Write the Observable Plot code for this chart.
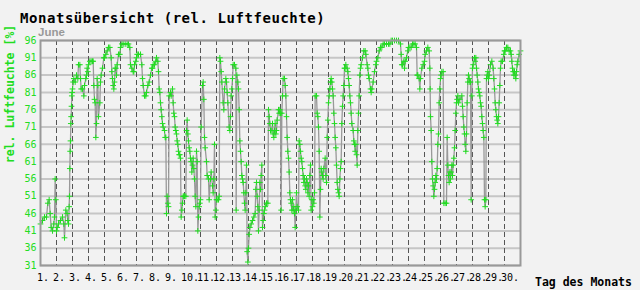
<!DOCTYPE html>
<html>
<head>
<meta charset="utf-8">
<script src="https://cdn.jsdelivr.net/npm/d3@7"></script>
<script src="https://cdn.jsdelivr.net/npm/@observablehq/plot@0.6"></script>
<style>
  html, body { margin: 0; padding: 0; background: #f2f2f2; }
  #chart svg { display: block; }
</style>
</head>
<body>
<div id="chart"></div>
<script>
// Time in hours since 1 June 00:00, relative humidity in %
const hours = [
  0,3,6,9,11,13,14.5,16,18,20,21,22,23,24,
  25,27,30,33,35,36,38,40,41,42,43,43.5,44,44.5,45,45.5,46,46.5,47,47.5,48,
  49,50,52,54,56,57,59,60,61,63,65,66,68,69,70,71,
  72,74,76,78,79,80,81,82,83,84,85,86,87,89,90,91,93,95,
  96,98,100,102,104,106,107,108,109,110,111,112,113,114,115,117,119,
  120,122,124,127,130,132,134,135,137,139,140,141,143,
  144,145,147,150,152,153,154,156,158,159,161,163,165,167,
  168,169,171,173,174,176,177,178,179,180,181,182,183,184,186,187,188,189,190,191,
  192,193,195,196,198,199,200,201,202,203,204,205,206,207,208,209,210,211,212,213,214,215,
  216,218,219,220,221,222,223,224,225,226,227,228,229,230,231,232,233,234,235,236,237,238,239,
  240,241,243,244,245,246,247,249,250,252,253,255,256,258,259,260,261,262,263,
  264,265,267,268,269,270,271,272,274,275,276,278,279,280,281,283,284,285,286,287,
  288,289,291,293,293.5,294.5,296,297,298,299,300,301,302,303,304,305,306,307,308,309,310,311,
  312,313,314,316,318,320,322,323,324,325,326,327,328,329,330,331,332,333,334,335,
  336,337,339,341,342,343,344,345,347,348,349,350,351,352,353,354,355,357,358,359,
  360,361,362,363,364,366,367,368,369,370,371,372,373,374,375,376,377,378,379,380,381,382,383,
  384,385,387,388,389,390,391,392,393,394,395,396,397,398,399,400,401,402,403,404,405,406,407,
  408,409,410,411,412,414,415,416,417,418,419,420,421,422,423,424,425,427,428,429,430,431,
  432,433,434,435,436,437,438,439,440,441,442,443,444,445,446,447,448,449,450,451,452,453,454,455,
  456,457,458,460,461,462,463,464,465,466,467,469,470,471,472,473,474,475,476,477,478,479,
  480,481,483,485,487,488,490,491,492,493,495,496,497,499,501,503,
  504,506,508,510,512,514,516,519,522,524,526,
  528,531,534,537,540,541,542,543,545,546,547,549,551,
  552,554,556,558,560,562,564,565,566,568,569,570,572,574,
  576,577,579,581,583,584,584.5,585,586,587,588,589,590,591,592,593,594,595,596,597,598,599,
  600,601,602,604,605,607,609,610,611,612,613,614,615,616,617,618,619,620,621,622,623,
  624,625,626,627,629,632,633,634,635,636,637,638,639,640,641,642,643,644,645,646,647,
  648,649,651,652,653,654,655,656,657,658,659,660,661,662,663,664,665,666,667,668,669,670,671,
  672,673,675,677,679,680,681,682,683,684,685,686,687,688,689,690,691,693,695,
  696,697,699,701,703,705,706,707,708,709,710,711,712,713,714,715,716,718,720
];
const humidity = [
  43,44,45,45,49,50,46,42,41,43,45,56,50,41,
  42,43,44,45,43,39,47,46,44,43,48,51,59,64,67,72,74,77,80,81,82,
  84,85,84,86,85,89,89,85,82,82,80,83,85,86,88,87,
  89,90,90,90,90,83,79,78,68,72,85,83,74,78,84,86,88,91,
  91,92,93,94,94,91,87,85,83,82,84,88,88,86,89,92,92,
  94,95,95,95,95,95,94,89,88,87,87,89,90,
  91,92,92,92,89,85,83,80,80,81,83,84,86,88,
  88,89,89,90,91,90,87,82,81,78,76,74,72,71,70,68,68,46,51,49,
  48,80,81,80,82,78,75,74,71,70,69,67,66,64,63,63,62,45,47,49,51,51,
  51,51,70,73,69,67,65,64,62,61,58,60,62,59,56,51,48,64,61,41,45,48,49,
  50,71,83,84,79,68,65,61,57,56,50,56,58,54,52,56,66,45,47,
  50,50,50,51,91,90,87,84,78,76,82,85,84,81,78,71,70,74,80,82,
  85,89,89,88,47,86,84,82,76,67,64,61,57,56,55,52,49,47,52,60,35,32,
  36,40,42,43,44,45,46,53,55,51,48,41,47,55,53,57,60,42,44,46,
  47,48,49,49,76,74,72,70,70,72,69,68,70,72,69,70,73,76,75,76,
  75,47,75,80,85,85,83,80,74,68,64,62,58,52,50,49,47,50,47,48,46,42,47,
  52,48,47,67,66,64,62,61,59,57,55,56,54,53,56,55,52,54,51,57,60,47,50,
  48,50,49,52,80,80,75,74,71,64,45,53,59,58,57,56,59,62,57,55,68,73,
  78,80,82,84,85,84,82,80,75,72,68,65,60,55,53,52,51,56,59,61,72,77,80,83,
  88,88,89,88,87,85,83,80,78,75,72,70,67,66,64,66,63,60,70,75,80,86,
  88,89,91,93,93,92,89,88,86,85,82,81,82,84,87,89,
  90,91,93,94,94,95,95,95,95,95,96,
  96,96,96,96,95,92,89,89,90,88,90,91,93,
  94,94,94,95,95,95,94,86,86,85,82,85,88,89,
  90,92,93,94,93,88,82,74,70,61,56,54,51,53,55,57,56,59,66,69,78,82,
  85,86,87,87,49,49,49,68,60,57,55,58,56,58,60,57,60,62,65,70,75,
  78,79,80,78,79,80,77,74,71,69,66,64,69,78,84,86,85,84,84,50,80,
  88,89,91,90,91,88,86,84,82,81,80,78,77,74,72,70,68,50,48,50,85,86,87,
  85,86,89,90,88,85,82,78,76,74,73,72,74,78,83,88,90,90,92,
  93,93,94,94,93,93,92,90,88,87,86,87,86,85,87,89,90,92,93
];
const dayTicks = d3.range(0, 720, 24);             // start of each day
const dayLabels = d3.range(1, 31).map(d => d + ".");
const yTicks = d3.range(31, 97, 5);                // 31 … 96

const titleText = "Monatsübersicht (rel. Luftfeuchte)";
const monthText = "June";
const yTitle = "rel. Luftfeuchte [%]";
const xTitle = "Tag des Monats";

const data = hours.map((h, i) => ({h, v: humidity[i]}));
const green = "#22dd22";

const chart = Plot.plot({
  width: 640,
  height: 290,
  marginLeft: 40,
  marginRight: 120,
  marginTop: 40,
  marginBottom: 25,
  style: {background: "#f2f2f2", fontFamily: "'DejaVu Sans Mono', monospace", fontSize: "10px", overflow: "visible"},
  x: {domain: [0, 720], label: null},
  y: {domain: [31, 96], label: null},
  marks: [
    Plot.ruleY(yTicks, {stroke: "#c6c6c6", strokeWidth: 2}),
    Plot.ruleX(dayTicks.slice(1), {stroke: "#555", strokeWidth: 1, strokeDasharray: "5,3"}),
    Plot.line(data, {x: "h", y: "v", stroke: "#999", strokeWidth: 1.3}),
    Plot.dot(data, {x: "h", y: "v", symbol: "plus", r: 2, stroke: green, strokeWidth: 1}),
    Plot.frame({stroke: "#999", strokeWidth: 2}),
    Plot.axisY({ticks: yTicks, tickSize: 0, tickPadding: 4, fill: green, fontSize: 10, label: null}),
    Plot.axisX({ticks: dayTicks, tickFormat: (d, i) => dayLabels[i], tickSize: 0, tickPadding: 8,
                textAnchor: "start", dx: -3.5, fill: "#000", fontSize: 10, label: null})
  ]
});

const svg = d3.select(chart);
svg.append("text").attr("x", 20).attr("y", 22.5).attr("text-anchor", "start")
  .attr("font-family", "'DejaVu Sans Mono', monospace").attr("font-weight", "bold")
  .attr("font-size", 14).attr("letter-spacing", 0.55).attr("fill", "#000").text(titleText);
svg.append("text").attr("x", 38).attr("y", 35.5).attr("text-anchor", "start")
  .attr("font-family", "'Liberation Sans', Arial, sans-serif").attr("font-weight", "bold")
  .attr("font-size", 11.5).attr("fill", "#999").text(monthText);
svg.append("text").attr("transform", "translate(14,94) rotate(-90)")
  .attr("text-anchor", "middle")
  .attr("font-family", "'DejaVu Sans Mono', monospace").attr("font-weight", "bold")
  .attr("font-size", 11.5).attr("fill", green).text(yTitle);
svg.append("text").attr("x", 535).attr("y", 285.5).attr("text-anchor", "start")
  .attr("font-family", "'DejaVu Sans Mono', monospace").attr("font-weight", "bold")
  .attr("font-size", 11.5).attr("fill", "#000").text(xTitle);

document.getElementById("chart").append(chart);
</script>
</body>
</html>
